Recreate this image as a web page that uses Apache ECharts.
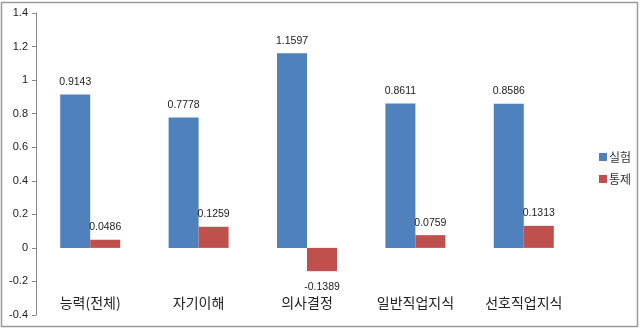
<!DOCTYPE html>
<html>
<head>
<meta charset="utf-8">
<script src="https://cdn.jsdelivr.net/npm/echarts@6/dist/echarts.min.js"></script>
<style>
  html, body { margin: 0; padding: 0; background: #fff; }
  #charts { width: 644px; height: 330px; }
</style>
</head>
<body>
<div id="charts"></div>
<script>
var categories = ['능력(전체)', '자기이해', '의사결정', '일반직업지식', '선호직업지식'];
var expValues = [0.9143, 0.7778, 1.1597, 0.8611, 0.8586];
var ctrlValues = [0.0486, 0.1259, -0.1389, 0.0759, 0.1313];
var seriesNames = ['실험', '통제'];

var fontKr = '"Noto Sans CJK KR", "Noto Sans", sans-serif';

function withLabels(values) {
    return values.map(function (v) {
        return { value: v, label: { position: v < 0 ? 'bottom' : 'top', distance: v < 0 ? 10 : 7 } };
    });
}

var myChart = echarts.init(document.getElementById('charts'));

myChart.setOption({
    backgroundColor: '#fff',
    animation: false,
    graphic: [{
        type: 'rect',
        shape: { x: 1.5, y: 2.5, width: 636, height: 324 },
        style: { fill: 'none', stroke: '#9a9a9a', lineWidth: 1.5 },
        silent: true
    }],
    legend: {
        orient: 'vertical',
        left: 594,
        top: 146,
        itemWidth: 8,
        itemHeight: 8,
        itemGap: 10,
        icon: 'rect',
        textStyle: { fontFamily: fontKr, fontSize: 12, color: '#333', padding: [0, 0, 0, -3] },
        data: seriesNames
    },
    grid: { left: 36, right: 66, top: 13, bottom: 15 },
    xAxis: {
        type: 'category',
        data: categories,
        axisLine: { show: false, onZero: false },
        axisTick: { show: false },
        axisLabel: { margin: -19, fontFamily: fontKr, fontSize: 14, color: '#222' }
    },
    yAxis: {
        type: 'value',
        min: -0.4,
        max: 1.4,
        interval: 0.2,
        splitLine: { show: false },
        axisLine: { show: true, lineStyle: { color: '#888' } },
        axisTick: { show: true, length: 4, lineStyle: { color: '#888' } },
        axisLabel: {
            margin: 8,
            fontFamily: 'Arial, "Liberation Sans", sans-serif',
            fontSize: 11,
            color: '#222',
            formatter: function (v) { return String(Math.round(v * 10) / 10); }
        }
    },
    series: [{
        name: seriesNames[0],
        type: 'bar',
        barWidth: 30,
        barGap: '0%',
        itemStyle: { color: '#4F81BD' },
        label: { show: true, fontSize: 10.5, color: '#222',
                 fontFamily: 'Arial, "Liberation Sans", sans-serif' },
        data: withLabels(expValues)
    }, {
        name: seriesNames[1],
        type: 'bar',
        barWidth: 30,
        barGap: '0%',
        itemStyle: { color: '#C0504D' },
        label: { show: true, fontSize: 10.5, color: '#222',
                 fontFamily: 'Arial, "Liberation Sans", sans-serif' },
        data: withLabels(ctrlValues)
    }]
});
</script>
</body>
</html>
